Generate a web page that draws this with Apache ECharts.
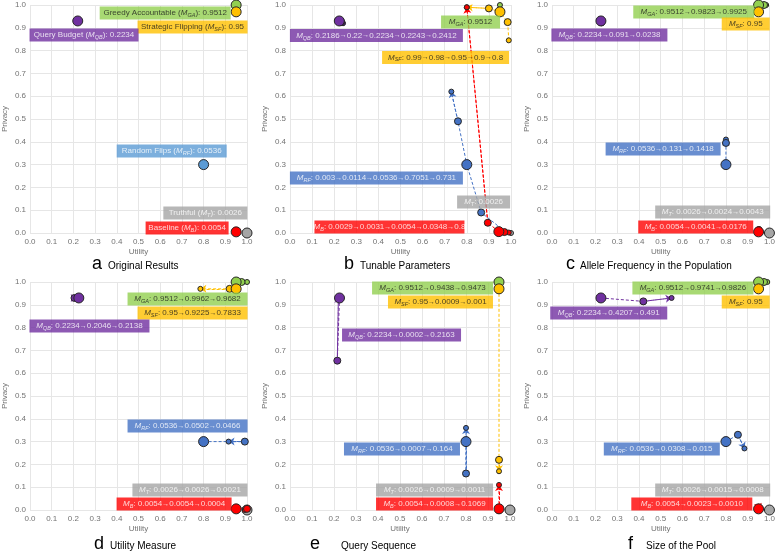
<!DOCTYPE html>
<html>
<head>
<meta charset="utf-8">
<script src="https://cdn.jsdelivr.net/npm/echarts@6/dist/echarts.min.js"></script>
<style>
html, body { margin: 0; padding: 0; background: #fff; }
#chart { width: 778px; height: 552px; }
</style>
</head>
<body>
<div id="chart"></div>
<script>
// [utility, privacy] of each mechanism, in the order of the values in its label
var aGA = [[0.95, 1.0]];
var aSF = [[0.95, 0.97]];
var aQB = [[0.22, 0.93]];
var aRF = [[0.80, 0.30]];
var aT  = [[1.0, 0.0]];
var aB  = [[0.95, 0.005]];

var bGA = [[0.95, 1.0]];
var bSF = [[0.99, 0.845], [0.985, 0.925], [0.95, 0.97], [0.90, 0.985], [0.80, 0.99]];
var bQB = [[0.215, 0.935], [0.22, 0.932], [0.223, 0.93], [0.232, 0.925], [0.24, 0.92]];
var bRF = [[0.975, 0.005], [0.865, 0.09], [0.80, 0.30], [0.76, 0.49], [0.73, 0.62]];
var bT  = [[1.0, 0.0]];
var bB  = [[0.99, 0.002], [0.97, 0.004], [0.945, 0.006], [0.895, 0.045], [0.80, 0.99]];

var cGA = [[0.95, 1.0], [0.975, 1.0], [0.985, 1.0]];
var cSF = [[0.95, 0.97]];
var cQB = [[0.225, 0.93], [0.227, 0.925], [0.229, 0.92]];
var cRF = [[0.80, 0.30], [0.80, 0.395], [0.80, 0.41]];
var cT  = [[1.0, 0.0], [0.998, 0.002], [1.0, 0.003]];
var cB  = [[0.95, 0.005], [0.95, 0.012], [0.952, 0.018]];

var dGA = [[0.95, 1.0], [0.975, 1.0], [1.0, 1.0]];
var dSF = [[0.95, 0.97], [0.92, 0.97], [0.785, 0.97]];
var dQB = [[0.225, 0.93], [0.205, 0.93], [0.215, 0.93]];
var dRF = [[0.80, 0.30], [0.99, 0.30], [0.915, 0.30]];
var dT  = [[1.0, 0.0], [0.995, 0.002], [1.0, 0.003]];
var dB  = [[0.95, 0.005], [1.0, 0.005], [0.99, 0.0]];

var eGA = [[0.95, 1.0], [0.948, 0.998], [0.952, 1.0]];
var eSF = [[0.95, 0.97], [0.95, 0.22], [0.95, 0.17]];
var eQB = [[0.225, 0.93], [0.215, 0.655], [0.22, 0.935]];
var eRF = [[0.80, 0.30], [0.80, 0.16], [0.80, 0.36]];
var eT  = [[1.0, 0.0], [0.998, 0.002], [1.0, 0.003]];
var eB  = [[0.95, 0.005], [0.95, 0.0], [0.95, 0.11]];

var fGA = [[0.95, 1.0], [0.975, 1.0], [0.99, 1.0]];
var fSF = [[0.95, 0.97]];
var fQB = [[0.225, 0.93], [0.42, 0.915], [0.55, 0.93]];
var fRF = [[0.80, 0.30], [0.855, 0.33], [0.885, 0.27]];
var fT  = [[1.0, 0.0], [0.998, 0.002], [1.0, 0.003]];
var fB  = [[0.95, 0.005], [0.95, 0.01], [0.951, 0.003]];

// position of the current setting inside each sequence
var origIndex = [0, 2, 0, 0, 0, 0];

var methodKeys  = ['GA', 'SF', 'QB', 'RF', 'T', 'B'];
var methodNames = ['Greedy Accountable', 'Strategic Flipping', 'Query Budget', 'Random Flips', 'Truthful', 'Baseline'];

var aValues = ['0.9512', '0.95', '0.2234', '0.0536', '0.0026', '0.0054'];
var bValues = ['0.9512', '0.99→0.98→0.95→0.9→0.8', '0.2186→0.22→0.2234→0.2243→0.2412',
               '0.003→0.0114→0.0536→0.7051→0.731', '0.0026', '0.0029→0.0031→0.0054→0.0348→0.8'];
var cValues = ['0.9512→0.9823→0.9925', '0.95', '0.2234→0.091→0.0238', '0.0536→0.131→0.1418',
               '0.0026→0.0024→0.0043', '0.0054→0.0041→0.0176'];
var dValues = ['0.9512→0.9962→0.9682', '0.95→0.9225→0.7833', '0.2234→0.2046→0.2138', '0.0536→0.0502→0.0466',
               '0.0026→0.0026→0.0021', '0.0054→0.0054→0.0004'];
var eValues = ['0.9512→0.9438→0.9473', '0.95→0.0009→0.001', '0.2234→0.0002→0.2163', '0.0536→0.0007→0.164',
               '0.0026→0.0009→0.0011', '0.0054→0.0008→0.1069'];
var fValues = ['0.9512→0.9741→0.9826', '0.95', '0.2234→0.4207→0.491', '0.0536→0.0308→0.015',
               '0.0026→0.0015→0.0008', '0.0054→0.0023→0.0010'];

var letters  = ['a', 'b', 'c', 'd', 'e', 'f'];
var captions = ['Original Results', 'Tunable Parameters', 'Allele Frequency in the Population',
                'Utility Measure', 'Query Sequence', 'Size of the Pool'];

// ---- layout / styles ----
var panels = [
  { pts: { GA: aGA, SF: aSF, QB: aQB, RF: aRF, T: aT, B: aB }, values: aValues },
  { pts: { GA: bGA, SF: bSF, QB: bQB, RF: bRF, T: bT, B: bB }, values: bValues },
  { pts: { GA: cGA, SF: cSF, QB: cQB, RF: cRF, T: cT, B: cB }, values: cValues },
  { pts: { GA: dGA, SF: dSF, QB: dQB, RF: dRF, T: dT, B: dB }, values: dValues },
  { pts: { GA: eGA, SF: eSF, QB: eQB, RF: eRF, T: eT, B: eB }, values: eValues },
  { pts: { GA: fGA, SF: fSF, QB: fQB, RF: fRF, T: fT, B: fB }, values: fValues }
];

var grids = [
  { left: 28,  top: 5,   width: 219, height: 228 },
  { left: 290, top: 5,   width: 221, height: 228 },
  { left: 552, top: 5,   width: 220, height: 228 },
  { left: 28,  top: 282, width: 219, height: 228 },
  { left: 290, top: 282, width: 220, height: 228 },
  { left: 552, top: 282, width: 220, height: 228 }
];

// label boxes: [centre utility, centre privacy, box width px], order GA SF QB RF T B
var noteBoxes = [
  [[0.623, 0.965, 131], [0.749, 0.904, 110], [0.249, 0.868, 109], [0.653, 0.36, 110], [0.808, 0.088, 84], [0.724, 0.022, 83]],
  [[0.817, 0.925, 59], [0.704, 0.77, 127], [0.391, 0.866, 173], [0.391, 0.241, 173], [0.876, 0.136, 53], [0.45, 0.026, 150]],
  [[0.652, 0.969, 121], [0.891, 0.917, 48], [0.264, 0.868, 116], [0.511, 0.368, 115], [0.739, 0.092, 115], [0.661, 0.026, 115]],
  [[0.726, 0.925, 120], [0.749, 0.864, 110], [0.274, 0.807, 120], [0.726, 0.368, 120], [0.737, 0.088, 115], [0.664, 0.026, 115]],
  [[0.648, 0.974, 121], [0.684, 0.912, 105], [0.507, 0.768, 119], [0.509, 0.268, 116], [0.657, 0.088, 117], [0.657, 0.026, 117]],
  [[0.648, 0.974, 121], [0.891, 0.912, 48], [0.261, 0.864, 117], [0.505, 0.268, 116], [0.739, 0.088, 115], [0.643, 0.026, 121]]
];

var letterPos  = [[92, 265], [344, 265], [566, 265], [94, 545], [310, 545], [628, 545]];
var captionPos = [[108, 265], [360, 265], [580, 265], [110, 545], [341, 545], [646, 545]];

var colors = { GA: '#92d050', SF: '#ffc000', QB: '#7030a0', RF: '#4472c4', T: '#a5a5a5', B: '#ff0000' };
var inkColors = { GA: '#1a1a1a', SF: '#1a1a1a', QB: '#ffffff', RF: '#ffffff', T: '#ffffff', B: '#ffffff' };
var font = 'Liberation Sans, Arial, sans-serif';
var axisInk = '#737373';

var grid = [], xAxis = [], yAxis = [], series = [], title = [];

panels.forEach(function (panel, i) {
  grid.push(grids[i]);
  xAxis.push({
    type: 'value', gridIndex: i, min: 0, max: 1, interval: 0.1,
    name: 'Utility', nameLocation: 'middle', nameGap: 15,
    nameTextStyle: { fontSize: 8, color: axisInk, fontFamily: font },
    axisLine: { show: false }, axisTick: { show: false },
    axisLabel: { fontSize: 8, color: axisInk, fontFamily: font, margin: 5,
                 formatter: function (v) { return v.toFixed(1); } },
    splitLine: { lineStyle: { color: '#e6e6e6' } }
  });
  yAxis.push({
    type: 'value', gridIndex: i, min: 0, max: 1, interval: 0.1,
    name: 'Privacy', nameLocation: 'middle', nameGap: 21,
    nameTextStyle: { fontSize: 8, color: axisInk, fontFamily: font },
    axisLine: { show: false }, axisTick: { show: false },
    axisLabel: { fontSize: 8, color: axisInk, fontFamily: font, margin: 4,
                 formatter: function (v) { return v.toFixed(1); } },
    splitLine: { lineStyle: { color: '#e6e6e6' } }
  });

  var orig = origIndex[i];
  methodKeys.forEach(function (k) {
    var pts = panel.pts[k];
    var col = (i === 0 && k === 'RF') ? '#5b9bd5' : colors[k];
    var n = pts.length;
    if (n > 1) {
      series.push({
        type: 'line', xAxisIndex: i, yAxisIndex: i, data: pts, symbol: 'none', silent: true, z: 2,
        lineStyle: { color: col, width: 1, type: [3, 2] }
      });
      series.push({
        type: 'lines', coordinateSystem: 'cartesian2d', xAxisIndex: i, yAxisIndex: i, silent: true, z: 2,
        symbol: ['none', 'arrow'], symbolSize: 6,
        lineStyle: { color: col, width: 1, type: [3, 2], opacity: 1, curveness: 0 },
        data: [{ coords: [pts[n - 2], pts[n - 1]] }]
      });
    }
    var items = [];
    pts.forEach(function (p, j) {
      var d = Math.abs(j - orig);
      items.push({ value: p, symbolSize: d === 0 ? 10 : Math.max(5, 9 - 2 * d), d: d });
    });
    items.sort(function (u, v) { return v.d - u.d; });
    series.push({
      type: 'scatter', xAxisIndex: i, yAxisIndex: i, z: 3, silent: true,
      itemStyle: { color: col, borderColor: '#262626', borderWidth: 1, opacity: 1 },
      data: items.map(function (it) { return { value: it.value, symbolSize: it.symbolSize }; })
    });
  });

  // label boxes
  var notes = methodKeys.map(function (k, m) {
    var box = noteBoxes[i][m];
    var col = (i === 0 && k === 'RF') ? '#5b9bd5' : colors[k];
    var ink = inkColors[k];
    var mText = '{i|M}{s|' + k + '}';
    var vals = panel.values[m].split('→').join('{r|→}');
    var text = i === 0 ? methodNames[m] + ' (' + mText + '): ' + vals : mText + ': ' + vals;
    return {
      value: [box[0], box[1]],
      label: {
        show: true, position: 'inside', formatter: text,
        width: box[2] - 8, align: 'center', verticalAlign: 'middle', overflow: 'none',
        backgroundColor: col, padding: [1, 4, 1, 4], color: ink,
        fontSize: 8, lineHeight: 11, fontFamily: font,
        rich: {
          i: { fontStyle: 'italic', fontSize: 8, color: ink, fontFamily: font },
          s: { fontStyle: 'italic', fontSize: 5.5, color: ink, fontFamily: font, verticalAlign: 'bottom', lineHeight: 9 },
          r: { fontSize: 7, color: ink, fontFamily: font }
        }
      }
    };
  });
  series.push({
    type: 'scatter', xAxisIndex: i, yAxisIndex: i, symbolSize: 0, z: 10, silent: true,
    data: notes
  });

  title.push({
    text: letters[i], left: letterPos[i][0], top: letterPos[i][1] - 10, padding: 0,
    textStyle: { fontSize: 18, fontWeight: 'normal', color: '#000', fontFamily: font }
  });
  title.push({
    text: captions[i], left: captionPos[i][0], top: captionPos[i][1] - 4, padding: 0,
    textStyle: { fontSize: 10, fontWeight: 'normal', color: '#000', fontFamily: font }
  });
});

var chart = echarts.init(document.getElementById('chart'));
chart.setOption({
  animation: false,
  backgroundColor: '#fff',
  title: title,
  grid: grid,
  xAxis: xAxis,
  yAxis: yAxis,
  series: series
});
</script>
</body>
</html>
